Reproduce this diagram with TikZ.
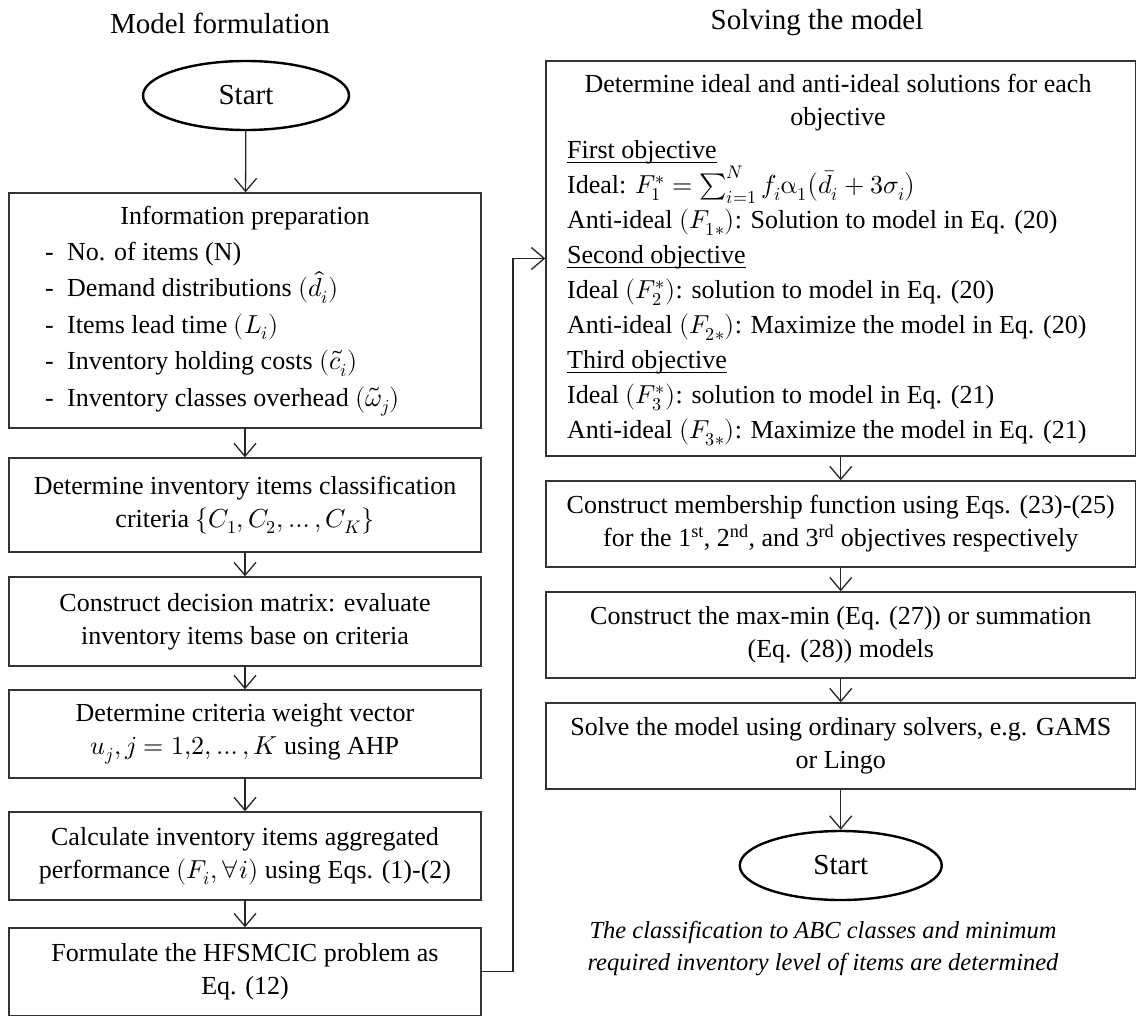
\documentclass[tikz,border=0pt]{standalone}
\usepackage{fontspec}
\usepackage{unicode-math}
\setmainfont{Liberation Serif}
\setmathfont{Latin Modern Math}
\usetikzlibrary{arrows.meta,shapes.geometric}
\newcommand{\fsbox}{\fontsize{26}{33}\selectfont}
\newcommand{\fsinfo}{\fontsize{26}{36.5}\selectfont}
\newcommand{\fsobj}{\fontsize{26}{35}\selectfont}
\newcommand{\fstitle}{\fontsize{29}{32}\selectfont}
\newcommand{\fscap}{\fontsize{24.5}{32}\selectfont}
\newcommand{\dashitem}{\makebox[22pt][l]{-}}
\newsavebox{\myulbox}
\newcommand{\myul}[1]{\sbox{\myulbox}{#1}\rlap{\rule[-4.5pt]{\wd\myulbox}{1.1pt}}\usebox{\myulbox}}
\begin{document}
\begin{tikzpicture}[x=1pt,y=-1pt,
  box/.style={rectangle, draw=black!80, line width=1.4pt, inner sep=0pt, align=center, font=\fsbox},
  term/.style={ellipse, draw=black, line width=2.4pt, minimum width=206pt, minimum height=69pt, inner sep=0pt, font=\fstitle},
  arr/.style={draw=black!85, line width=1.3pt, -{Straight Barb[length=13pt,width=22pt,line width=1.3pt]}},
  title/.style={font=\fstitle, inner sep=0pt},
  txt/.style={inner sep=0pt}]
\useasboundingbox (0,0) rectangle (1137,1017);

% ---------- left column ----------
\node[title] (t1) at (220,23) {Model formulation};
\node[term] (s1) at (246,95.5) {Start};
\node[box, minimum width=472pt, minimum height=235pt] (b1) at (245,310.5) {};
\node[txt, font=\fsbox] (b1t) at (245,218) {Information preparation};
\node[txt, font=\fsinfo, align=left, anchor=west] (b1l) at (45,329) {%
\dashitem No. of items (N)\\
\dashitem Demand distributions $(\hat{d}_i)$\\
\dashitem Items lead time $(L_i)$\\
\dashitem Inventory holding costs $(\tilde{c}_i)$\\
\dashitem Inventory classes overhead $(\widetilde{\omega}_j)$};
\node[box, minimum width=472pt, minimum height=94pt] (b2) at (245,505) {Determine inventory items classification\\criteria $\{C_1, C_2, \dots, C_K\}$};
\node[box, minimum width=472pt, minimum height=89pt] (b3) at (245,621.5) {Construct decision matrix: evaluate\\inventory items base on criteria};
\node[box, minimum width=472pt, minimum height=88pt] (b4) at (245,734) {Determine criteria weight vector\\$u_j, j = 1{,}2, \dots, K$ using AHP};
\node[box, minimum width=472pt, minimum height=88pt] (b5) at (245,856) {Calculate inventory items aggregated\\performance $(F_i, \forall i)$ using Eqs. (1)-(2)};
\node[box, minimum width=472pt, minimum height=87.5pt] (b6) at (245,971.75) {Formulate the HFSMCIC problem as\\Eq. (12)};

\draw[arr] (s1) -- (b1);
\draw[arr] (b1) -- (b2);
\draw[arr] (b2) -- (b3);
\draw[arr] (b3) -- (b4);
\draw[arr] (b4) -- (b5);
\draw[arr] (b5) -- (b6);

% ---------- right column ----------
\node[title] (t2) at (817,23) {Solving the model};
\node[box, minimum width=589.5pt, minimum height=395pt] (r1) at (840.75,258.5) {};
\node[txt, font=\fsbox, align=center] (r1t) at (838,102.5) {Determine ideal and anti-ideal solutions for each\\objective};
\node[txt, font=\fsobj, align=left, anchor=west] (r1l) at (567,293) {%
\myul{First objective}\\
Ideal: $F_1^* = \sum_{i=1}^{N} f_i \upalpha_1 \big(\bar{d}_i + 3\sigma_i\big)$\\
Anti-ideal $(F_{1*})$: Solution to model in Eq. (20)\\
\myul{Second objective}\\
Ideal $(F_2^*)$: solution to model in Eq. (20)\\
Anti-ideal $(F_{2*})$: Maximize the model in Eq. (20)\\
\myul{Third objective}\\
Ideal $(F_3^*)$: solution to model in Eq. (21)\\
Anti-ideal $(F_{3*})$: Maximize the model in Eq. (21)};
\node[box, minimum width=589.5pt, minimum height=86pt] (r2) at (840.75,524) {Construct membership function using Eqs. (23)-(25)\\for the 1\textsuperscript{st}, 2\textsuperscript{nd}, and 3\textsuperscript{rd} objectives respectively};
\node[box, minimum width=589.5pt, minimum height=86pt] (r3) at (840.75,635) {Construct the max-min (Eq. (27)) or summation\\(Eq. (28)) models};
\node[box, minimum width=589.5pt, minimum height=86pt] (r4) at (840.75,746) {Solve the model using ordinary solvers, e.g. GAMS\\or Lingo};
\node[term, minimum width=202pt] (s2) at (840.75,865.5) {Start};
\node[txt, font=\fscap\itshape, align=center] (cap) at (823,949) {The classification to ABC classes and minimum\\required inventory level of items are determined};

\draw[arr] (r1) -- (r2);
\draw[arr] (r2) -- (r3);
\draw[arr] (r3) -- (r4);
\draw[arr] (r4) -- (s2);

% ---------- link between columns ----------
\coordinate (bend) at (513,971.75);
\draw[arr] (b6.east) -- (bend) |- (r1.west);
\end{tikzpicture}
\end{document}
